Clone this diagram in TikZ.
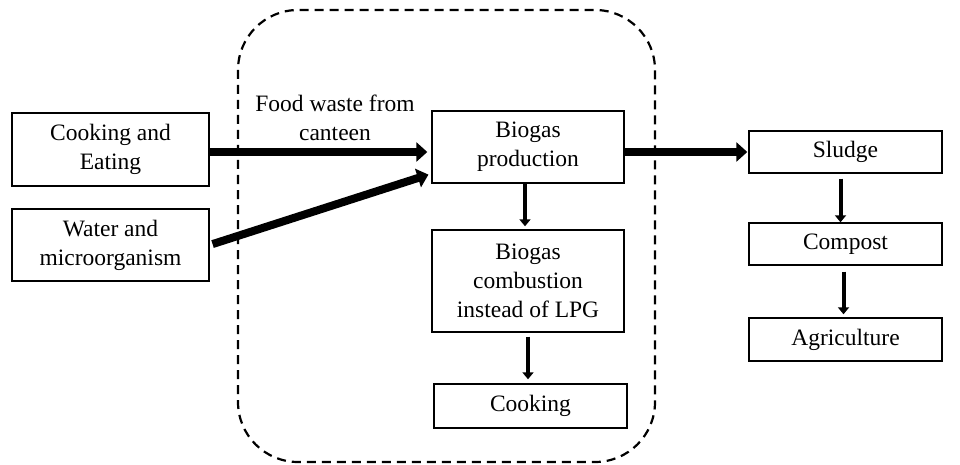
\documentclass[tikz,border=0pt]{standalone}
\usepackage{fontspec}
\setmainfont{Liberation Serif}
\usetikzlibrary{arrows.meta,calc}
\begin{document}
\begin{tikzpicture}[x=1pt,y=-1pt,
  box/.style={draw,line width=1.4pt,inner sep=0pt,align=center,
    font=\fontsize{23.5}{29}\selectfont},
  thick arrow/.style={line width=8pt,-{Triangle[length=11pt,width=19pt]}},
  thin arrow/.style={line width=4pt,-{Triangle[length=7pt,width=11pt]}},
  region/.style={draw,line width=2.2pt,dash pattern=on 9pt off 6pt,rounded corners=60pt}]
\useasboundingbox (0,0) rectangle (960,465);
\draw[region] (238,10) rectangle (655,462);
\node[box,minimum width=197pt,minimum height=73pt] (cook) at (110.5,149.5) {Cooking and\\Eating};
\node[box,minimum width=197pt,minimum height=72pt] (water) at (110.5,245) {Water and\\microorganism};
\node[box,minimum width=192pt,minimum height=72pt] (biogas) at (528,147) {Biogas\\production};
\node[box,minimum width=192pt,minimum height=102pt] (comb) at (528,281) {Biogas\\combustion\\instead of LPG};
\node[box,minimum width=193pt,minimum height=44pt] (cooking) at (530.5,406) {Cooking};
\node[box,minimum width=193pt,minimum height=42pt] (sludge) at (845.5,152) {Sludge};
\node[box,minimum width=193pt,minimum height=42pt] (compost) at (845.5,244) {Compost};
\node[box,minimum width=193pt,minimum height=43pt] (agri) at (845.5,339.5) {Agriculture};
\node[align=center,inner sep=0pt,font=\fontsize{23.5}{29}\selectfont] (label) at (335,118) {Food waste from\\canteen};
\coordinate (lowin) at ($(biogas.south west)+(0,-10)$);
\draw[thick arrow,shorten >=4pt] ($(cook.east)+(0,2.5)$) -- ($(cook.east -| biogas.west)+(0,2.5)$);
\draw[thick arrow,shorten >=3pt,shorten <=3pt] (water.east) -- (lowin);
\draw[thick arrow,shorten >=1pt] (biogas.east |- sludge.west) -- (sludge.west);
\draw[thin arrow,shorten >=3pt] ($(biogas.south)+(-3,0)$) -- ($(comb.north)+(-3,0)$);
\draw[thin arrow,shorten >=4pt,shorten <=4pt] (comb.south) -- (comb.south |- cooking.north);
\draw[thin arrow,shorten <=5pt] ($(sludge.south)+(-5,0)$) -- ($(compost.north)+(-5,0)$);
\draw[thin arrow,shorten <=6pt,shorten >=3pt] ($(compost.south)+(-2,0)$) -- ($(agri.north)+(-2,0)$);
\end{tikzpicture}
\end{document}
